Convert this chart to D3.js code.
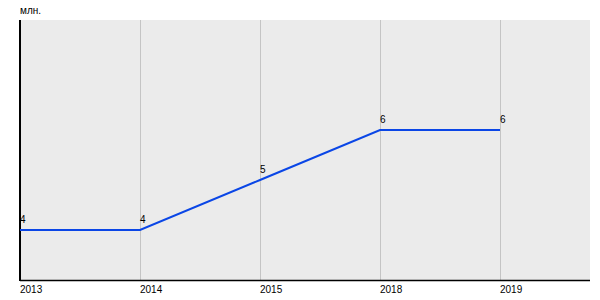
<!DOCTYPE html>
<html><head><meta charset="utf-8">
<script src="https://d3js.org/d3.v7.min.js"></script>
<style>body{margin:0;background:#fff}svg{display:block}</style>
</head><body>
<script>
const categories = ["2013","2014","2015","2018","2019"];
const values = [4,4,5,6,6];
const unitLabel = "млн.";

(function(){
const W=600,H=300, mL=20, mR=590, mT=20, mB=280;
const svg=d3.select("body").append("svg").attr("width",W).attr("height",H)
  .style("font-family","Arial, 'Liberation Sans', sans-serif");
const x=d3.scaleLinear().domain([0,categories.length-0.25]).range([mL,mR]);
const y=d3.scaleLinear().domain([3,8.2]).range([mB,mT]);

svg.append("rect").attr("x",mL).attr("y",mT).attr("width",mR-mL).attr("height",mB-mT).attr("fill","#ebebeb");
svg.selectAll("line.grid").data(categories).enter().append("line")
  .attr("x1",(d,i)=>x(i)+0.5).attr("x2",(d,i)=>x(i)+0.5).attr("y1",mT).attr("y2",mB)
  .attr("stroke","#c4c4c4").attr("stroke-width",1);
svg.append("line").attr("x1",mL).attr("x2",mL).attr("y1",mT).attr("y2",mB+1).attr("stroke","#000").attr("stroke-width",2);
svg.append("line").attr("x1",mL).attr("x2",mR).attr("y1",mB+0.5).attr("y2",mB+0.5).attr("stroke","#000").attr("stroke-width",1.5);

svg.append("path").datum(values)
  .attr("d",d3.line().x((d,i)=>x(i)).y(d=>y(d)))
  .attr("fill","none").attr("stroke","#0a46e6").attr("stroke-width",2);

svg.selectAll("text.val").data(values).enter().append("text")
  .attr("x",(d,i)=>x(i)).attr("y",d=>y(d)-7).text(d=>d)
  .attr("font-size",10).attr("fill","#000");
svg.selectAll("text.cat").data(categories).enter().append("text")
  .attr("x",(d,i)=>x(i)).attr("y",mB+13).text(d=>d)
  .attr("font-size",10).attr("fill","#000");
svg.append("text").attr("x",mL).attr("y",14).text(unitLabel).attr("font-size",10).attr("fill","#000");
})();
</script>
</body></html>
